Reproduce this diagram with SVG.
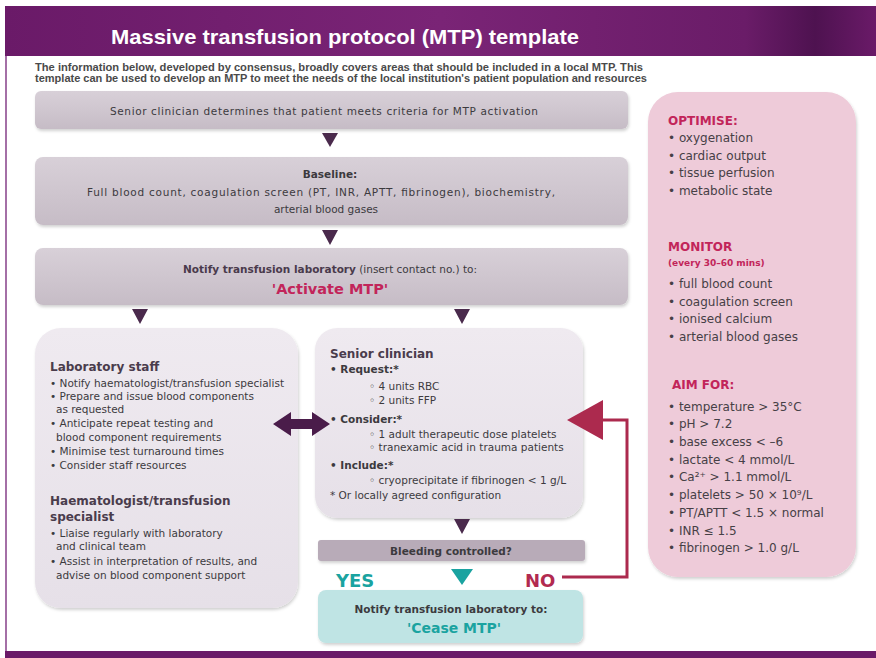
<svg xmlns="http://www.w3.org/2000/svg" width="876" height="658" viewBox="0 0 876 658">
<defs>
<linearGradient id="banner" x1="0" y1="0" x2="1" y2="0">
<stop offset="0" stop-color="#6a1a68"/>
<stop offset="0.5" stop-color="#7a2476"/>
<stop offset="0.85" stop-color="#6a1c68"/>
<stop offset="0.93" stop-color="#4e1250"/>
<stop offset="1" stop-color="#6a1a68"/>
</linearGradient>
<linearGradient id="grey" x1="0" y1="0" x2="0" y2="1">
<stop offset="0" stop-color="#d8d0d8"/>
<stop offset="1" stop-color="#c6bcc6"/>
</linearGradient>
<linearGradient id="light" x1="0" y1="0" x2="0" y2="1">
<stop offset="0" stop-color="#efeaf0"/>
<stop offset="1" stop-color="#e6e0e8"/>
</linearGradient>
<filter id="sh" x="-10%" y="-10%" width="120%" height="130%">
<feDropShadow dx="1" dy="2" stdDeviation="1.5" flood-color="#000" flood-opacity="0.18"/>
</filter>
</defs>
<style>
text{font-family:"DejaVu Sans","Liberation Sans",Arial,sans-serif;}
.t{fill:#3c3a3e;font-size:10.5px;}
.tb{fill:#3c3a3e;font-size:10.5px;font-weight:bold;}
.h{fill:#4a3c4c;font-size:12px;font-weight:bold;}
.r{fill:#c2255a;font-weight:bold;}
.pk{fill:#464046;font-size:12px;}
.arr{fill:#4a2a4c;}
</style>
<rect width="876" height="658" fill="#ffffff"/>
<rect x="5" y="6" width="871" height="50" fill="url(#banner)"/>
<rect x="5" y="56" width="2" height="596" fill="#a46fa6"/>
<rect x="5" y="651" width="871" height="7" fill="#6a1a68"/>
<text x="345" y="44" text-anchor="middle" fill="#ffffff" font-size="21" font-weight="bold" style="font-family:'Liberation Sans',Arial,sans-serif" textLength="468" lengthAdjust="spacingAndGlyphs">Massive transfusion protocol (MTP) template</text>
<text x="35" y="71" fill="#4a4a4a" font-size="10" font-weight="bold" style="font-family:'Liberation Sans',Arial,sans-serif" textLength="608" lengthAdjust="spacingAndGlyphs">The information below, developed by consensus, broadly covers areas that should be included  in a local MTP. This</text>
<text x="35" y="82" fill="#4a4a4a" font-size="10" font-weight="bold" style="font-family:'Liberation Sans',Arial,sans-serif" textLength="612" lengthAdjust="spacingAndGlyphs">template can be used to develop an MTP to meet the needs of the local institution's patient population and resources</text>

<g id="activation">
<rect x="35" y="91" width="593" height="38" rx="6" fill="url(#grey)" filter="url(#sh)"/>
<text x="324" y="115" text-anchor="middle" class="t" font-size="11" textLength="428" lengthAdjust="spacing">Senior clinician determines that patient meets criteria for MTP activation</text>
</g>

<g id="baseline">
<rect x="35" y="157" width="593" height="68" rx="8" fill="url(#grey)" filter="url(#sh)"/>
<text x="330" y="178" text-anchor="middle" class="tb" font-size="11.5" fill="#4a3a4c">Baseline:</text>
<text x="321" y="196" text-anchor="middle" class="t" font-size="11" textLength="468" lengthAdjust="spacing">Full blood count, coagulation screen (PT, INR, APTT, fibrinogen), biochemistry,</text>
<text x="326" y="213" text-anchor="middle" class="t" font-size="11">arterial blood gases</text>
</g>

<g id="activate">
<rect x="35" y="248" width="593" height="57" rx="8" fill="url(#grey)" filter="url(#sh)"/>
<text x="330" y="273" text-anchor="middle" class="t" font-size="12"><tspan font-weight="bold" fill="#4a3a4c">Notify transfusion laboratory</tspan> (insert contact no.) to:</text>
<text x="330" y="294" text-anchor="middle" class="r" font-size="14.5">'Activate MTP'</text>
</g>

<g id="laboratory">
<rect x="35" y="328" width="263" height="280" rx="26" fill="url(#light)" filter="url(#sh)"/>
<text x="50" y="371" class="h">Laboratory staff</text>
<text class="t">
<tspan x="50" y="387">• Notify haematologist/transfusion specialist</tspan>
<tspan x="50" y="400">• Prepare and issue blood components</tspan>
<tspan x="56" y="413">as requested</tspan>
<tspan x="50" y="427">• Anticipate repeat testing and</tspan>
<tspan x="56" y="441">blood component requirements</tspan>
<tspan x="50" y="455">• Minimise test turnaround times</tspan>
<tspan x="50" y="469">• Consider staff resources</tspan>
</text>
<text class="h"><tspan x="50" y="505">Haematologist/transfusion</tspan><tspan x="50" y="521">specialist</tspan></text>
<text class="t">
<tspan x="50" y="537">• Liaise regularly with laboratory</tspan>
<tspan x="56" y="550">and clinical team</tspan>
<tspan x="50" y="565">• Assist in interpretation of results, and</tspan>
<tspan x="56" y="579">advise on blood component support</tspan>
</text>
</g>

<g id="clinician">
<rect x="315" y="328" width="268" height="190" rx="22" fill="url(#light)" filter="url(#sh)"/>
<text x="330" y="358" class="h">Senior clinician</text>
<text class="tb" fill="#4a3c4c">
<tspan x="330" y="373">• Request:*</tspan>
<tspan x="330" y="423">• Consider:*</tspan>
<tspan x="330" y="469">• Include:*</tspan>
</text>
<text class="t" font-size="9.8">
<tspan x="369" y="390">◦ 4 units RBC</tspan>
<tspan x="369" y="404">◦ 2 units FFP</tspan>
<tspan x="369" y="438">◦ 1 adult therapeutic dose platelets</tspan>
<tspan x="369" y="451">◦ tranexamic acid in trauma patients</tspan>
<tspan x="369" y="484">◦ cryoprecipitate if fibrinogen &lt; 1 g/L</tspan>
</text>
<text x="330" y="499" class="t" font-size="5.5">* Or locally agreed configuration</text>
</g>

<g id="bleeding">
<rect x="318" y="540" width="267" height="21" rx="3" fill="#b8abb8" filter="url(#sh)"/>
<text x="451" y="555" text-anchor="middle" class="tb" fill="#4a2a4c" font-size="11">Bleeding controlled?</text>
</g>
<text x="336" y="587" fill="#1aa3a0" font-size="18" font-weight="bold">YES</text>
<text x="525" y="587" fill="#b22a50" font-size="18" font-weight="bold">NO</text>

<g id="cease">
<rect x="318" y="590" width="265" height="53" rx="8" fill="#bfe4e4" filter="url(#sh)"/>
<text x="451" y="613" text-anchor="middle" class="tb" fill="#333" font-size="12">Notify transfusion laboratory to:</text>
<text x="454" y="633" text-anchor="middle" fill="#1aa3a0" font-size="14" font-weight="bold">'Cease MTP'</text>
</g>

<g id="targets">
<rect x="648" y="92" width="208" height="485" rx="30" fill="#eecbd9" filter="url(#sh)"/>
<text x="668" y="125" class="r" font-size="12">OPTIMISE:</text>
<text class="pk">
<tspan x="668" y="142">• oxygenation</tspan>
<tspan x="668" y="160">• cardiac output</tspan>
<tspan x="668" y="177">• tissue perfusion</tspan>
<tspan x="668" y="195">• metabolic state</tspan>
</text>
<text x="668" y="251" class="r" font-size="12">MONITOR</text>
<text x="668" y="266" class="r" font-size="9">(every 30–60 mins)</text>
<text class="pk">
<tspan x="668" y="288">• full blood count</tspan>
<tspan x="668" y="306">• coagulation screen</tspan>
<tspan x="668" y="323">• ionised calcium</tspan>
<tspan x="668" y="341">• arterial blood gases</tspan>
</text>
<text x="672" y="389" class="r" font-size="12">AIM FOR:</text>
<text class="pk">
<tspan x="668" y="411">• temperature &gt; 35°C</tspan>
<tspan x="668" y="428">• pH &gt; 7.2</tspan>
<tspan x="668" y="446">• base excess &lt; –6</tspan>
<tspan x="668" y="464">• lactate &lt; 4 mmol/L</tspan>
<tspan x="668" y="481">• Ca²⁺ &gt; 1.1 mmol/L</tspan>
<tspan x="668" y="499">• platelets &gt; 50 × 10⁹/L</tspan>
<tspan x="668" y="517">• PT/APTT &lt; 1.5 × normal</tspan>
<tspan x="668" y="535">• INR ≤ 1.5</tspan>
<tspan x="668" y="552">• fibrinogen &gt; 1.0 g/L</tspan>
</text>
</g>

<g id="connectors">
<polygon class="arr" points="322,133 338,133 330,147"/>
<polygon class="arr" points="322,230 338,230 330,245"/>
<polygon class="arr" points="132,309 148,309 140,324"/>
<polygon class="arr" points="454,309 470,309 462,324"/>
<polygon class="arr" points="454,519 470,519 462,534"/>
<polygon fill="#1aa3a0" points="451,569 473,569 462,585"/>
<polygon fill="#4a1c4a" points="273,424 291,412 291,419 312,419 312,412 330,424 312,436 312,429 291,429 291,436"/>
<polyline points="562,577 627,577 627,420 598,420" fill="none" stroke="#ac2a4e" stroke-width="3"/>
<polygon fill="#ac2a4e" points="567,420 603,400 603,440"/>
</g>
</svg>
